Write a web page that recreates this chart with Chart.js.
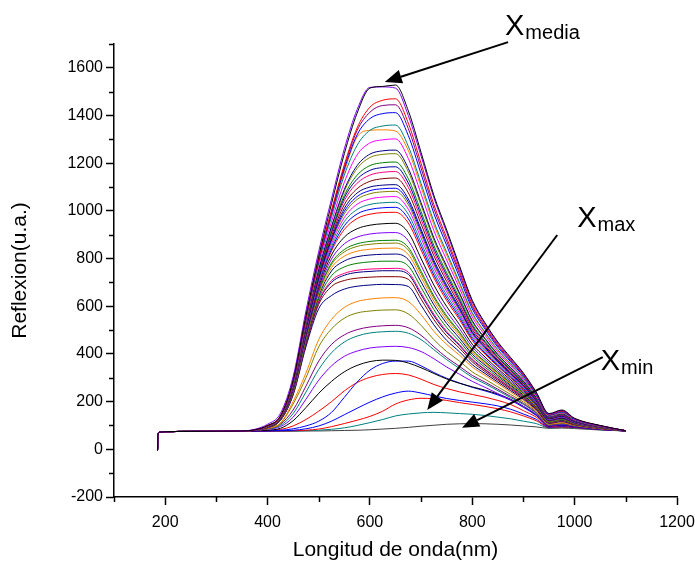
<!DOCTYPE html>
<html>
<head>
<meta charset="utf-8">
<script src="https://cdn.jsdelivr.net/npm/chart.js@4.4.1/dist/chart.umd.min.js"></script>
<style>
  html, body { margin: 0; padding: 0; background: #fff; }
  canvas { display: block; }
</style>
</head>
<body>
<canvas id="chart" width="695" height="567"></canvas>
<script>
// shared start of every spectrum (nm / counts)
const leadWavelengths = [185, 186, 190, 200, 250, 300, 350];
const leadValues = [-5, 65, 72, 74, 75, 76, 77];

// wavelengths for the rest of each spectrum
const wavelengths = [375, 400, 425, 450, 475, 500, 525, 550, 575, 600, 625, 650, 675, 700,
  725, 750, 775, 800, 825, 850, 875, 900, 925, 950, 975, 1000, 1050, 1100];

// spectra, top (X media) to bottom (X min)
const c01 = [82, 100, 140, 290, 560, 810, 1030, 1240, 1410, 1515, 1522, 1528, 1420, 1245, 1065, 920, 770, 625, 530, 450, 385, 320, 240, 150, 165, 130, 100, 78];
const c02 = [84, 105, 150, 305, 580, 830, 1050, 1260, 1425, 1518, 1520, 1515, 1400, 1230, 1055, 910, 760, 618, 525, 445, 380, 316, 236, 148, 163, 128, 99, 78];
const c03 = [81, 99, 138, 287, 553, 800, 1003, 1194, 1348, 1435, 1464, 1470, 1368, 1199, 1026, 887, 747, 607, 517, 439, 376, 313, 235, 147, 161, 128, 99, 78];
const c04 = [81, 98, 137, 285, 550, 796, 997, 1185, 1337, 1414, 1442, 1445, 1345, 1179, 1010, 873, 737, 599, 511, 434, 372, 310, 233, 146, 160, 127, 99, 78];
const c05 = [80, 98, 137, 283, 547, 791, 990, 1175, 1319, 1387, 1408, 1412, 1316, 1155, 989, 855, 722, 589, 504, 428, 367, 306, 230, 144, 158, 126, 98, 78];
const c06 = [80, 97, 135, 280, 542, 783, 975, 1150, 1275, 1338, 1356, 1360, 1271, 1115, 955, 826, 700, 573, 491, 418, 359, 299, 226, 142, 155, 125, 98, 78];
const c07 = [80, 97, 135, 279, 539, 780, 985, 1165, 1310, 1338, 1340, 1335, 1253, 1100, 942, 815, 692, 567, 487, 414, 356, 297, 224, 141, 154, 124, 97, 78];
const c08 = [80, 96, 134, 277, 535, 770, 955, 1120, 1235, 1285, 1298, 1302, 1220, 1071, 917, 794, 676, 555, 478, 407, 350, 292, 221, 139, 152, 123, 97, 78];
const c09 = [80, 96, 133, 274, 528, 755, 935, 1090, 1190, 1238, 1252, 1255, 1178, 1034, 887, 768, 656, 540, 465, 398, 342, 286, 217, 137, 149, 121, 96, 78];
const c10 = [80, 96, 133, 273, 526, 752, 930, 1082, 1178, 1224, 1237, 1240, 1164, 1023, 877, 759, 650, 535, 462, 395, 340, 284, 216, 136, 148, 121, 96, 78];
const c11 = [80, 95, 131, 271, 521, 745, 920, 1065, 1150, 1190, 1202, 1205, 1135, 997, 855, 741, 635, 524, 453, 389, 334, 280, 213, 134, 146, 120, 95, 78];
const c12 = [80, 95, 131, 270, 518, 740, 912, 1055, 1133, 1170, 1182, 1185, 1117, 982, 842, 730, 626, 518, 449, 385, 331, 277, 211, 133, 145, 119, 95, 78];
const c13 = [80, 95, 130, 268, 515, 735, 905, 1043, 1116, 1150, 1162, 1165, 1099, 965, 828, 718, 618, 511, 443, 381, 328, 275, 209, 132, 143, 119, 95, 78];
const c14 = [80, 95, 130, 267, 511, 728, 895, 1026, 1093, 1124, 1135, 1138, 1076, 945, 812, 704, 606, 503, 436, 375, 323, 271, 207, 131, 142, 118, 94, 78];
const c15 = [80, 94, 129, 265, 507, 720, 885, 1010, 1075, 1100, 1108, 1110, 1050, 923, 793, 688, 595, 494, 430, 370, 319, 268, 205, 129, 140, 117, 94, 78];
const c16 = [80, 94, 129, 264, 504, 716, 878, 998, 1060, 1085, 1093, 1095, 1038, 913, 784, 680, 588, 489, 426, 367, 316, 266, 203, 129, 139, 116, 94, 78];
const c17 = [80, 94, 128, 263, 502, 712, 872, 988, 1048, 1072, 1080, 1082, 1026, 902, 775, 672, 582, 485, 422, 364, 314, 264, 202, 128, 139, 116, 94, 78];
const c18 = [80, 94, 128, 262, 498, 706, 862, 972, 1028, 1050, 1058, 1060, 1007, 886, 761, 661, 572, 478, 417, 360, 311, 261, 200, 127, 137, 115, 93, 78];
const c19 = [80, 94, 127, 260, 494, 700, 850, 955, 1006, 1027, 1034, 1036, 986, 867, 745, 647, 562, 470, 410, 355, 306, 258, 198, 126, 136, 114, 93, 78];
const c20 = [80, 93, 127, 259, 490, 695, 840, 938, 987, 1006, 1013, 1015, 967, 851, 731, 635, 553, 463, 404, 351, 303, 255, 196, 125, 135, 114, 93, 78];
const c21 = [80, 93, 126, 257, 486, 690, 832, 922, 968, 986, 993, 994, 949, 836, 719, 624, 544, 456, 399, 347, 299, 252, 194, 124, 134, 113, 92, 78];
const c22 = [80, 93, 125, 253, 480, 680, 815, 890, 925, 940, 946, 948, 909, 800, 689, 599, 523, 441, 387, 337, 292, 246, 190, 122, 131, 112, 92, 78];
const c23 = [80, 93, 125, 250, 474, 670, 798, 862, 890, 903, 908, 909, 875, 771, 664, 578, 506, 429, 377, 329, 285, 241, 187, 120, 129, 110, 91, 78];
const c24 = [80, 92, 124, 247, 468, 662, 782, 838, 862, 872, 876, 877, 847, 747, 643, 560, 492, 418, 368, 322, 279, 236, 184, 118, 127, 109, 91, 78];
const c25 = [80, 92, 124, 246, 465, 658, 775, 828, 851, 860, 864, 865, 836, 737, 635, 553, 486, 414, 365, 320, 277, 235, 183, 117, 126, 109, 90, 78];
const c26 = [80, 92, 124, 244, 461, 650, 762, 810, 831, 839, 843, 844, 817, 721, 621, 541, 477, 407, 359, 315, 273, 232, 181, 116, 125, 108, 90, 78];
const c27 = [80, 92, 123, 242, 457, 642, 748, 790, 808, 815, 818, 819, 796, 702, 606, 528, 466, 399, 353, 310, 269, 228, 178, 115, 123, 107, 90, 78];
const c28 = [80, 92, 123, 239, 452, 632, 728, 765, 780, 786, 789, 789, 769, 679, 586, 511, 453, 389, 344, 303, 264, 224, 175, 114, 121, 106, 89, 78];
const c29 = [80, 91, 122, 236, 447, 622, 708, 738, 751, 756, 758, 759, 743, 656, 567, 495, 440, 379, 336, 297, 259, 220, 173, 112, 120, 105, 89, 78];
const c30 = [80, 91, 122, 235, 445, 618, 700, 730, 742, 746, 749, 749, 734, 648, 560, 489, 435, 375, 333, 295, 257, 219, 172, 112, 119, 105, 89, 78];
const c31 = [80, 91, 121, 232, 440, 608, 683, 708, 718, 722, 724, 724, 713, 630, 544, 476, 424, 367, 326, 289, 252, 215, 169, 111, 118, 104, 88, 78];
const c32 = [80, 91, 121, 228, 430, 590, 645, 672, 684, 689, 692, 691, 683, 604, 522, 457, 409, 355, 318, 282, 246, 210, 166, 109, 116, 103, 88, 78];
const c33 = [80, 88, 110, 200, 320, 460, 545, 595, 620, 630, 635, 636, 620, 565, 495, 440, 395, 345, 310, 275, 240, 205, 162, 106, 112, 101, 87, 78];
const c34 = [80, 87, 108, 190, 300, 430, 505, 550, 572, 580, 584, 585, 568, 520, 460, 410, 370, 325, 294, 262, 230, 198, 158, 104, 110, 100, 87, 78];
const c35 = [80, 86, 105, 165, 265, 370, 440, 480, 502, 513, 518, 520, 510, 478, 430, 385, 348, 310, 282, 252, 222, 192, 154, 102, 108, 99, 86, 78];
const c36 = [80, 85, 100, 150, 240, 335, 405, 450, 475, 488, 493, 495, 487, 460, 418, 376, 339, 302, 275, 246, 217, 188, 151, 101, 107, 98, 86, 78];
const c37 = [80, 84, 95, 135, 210, 290, 350, 390, 412, 425, 430, 432, 427, 410, 380, 345, 315, 285, 260, 234, 207, 180, 146, 99, 104, 97, 85, 78];
const c38 = [78, 80, 88, 120, 175, 235, 285, 325, 352, 368, 374, 373, 362, 342, 318, 295, 277, 262, 248, 232, 210, 180, 145, 98, 103, 96, 85, 77];
const c39 = [77, 78, 80, 86, 98, 118, 155, 218, 282, 332, 360, 370, 370, 350, 322, 298, 278, 260, 245, 228, 206, 176, 142, 97, 101, 95, 84, 77];
const c40 = [77, 79, 83, 98, 125, 160, 200, 245, 280, 302, 314, 318, 312, 294, 272, 255, 241, 230, 219, 205, 188, 162, 135, 95, 99, 94, 84, 77];
const c41 = [76, 77, 78, 80, 86, 98, 118, 145, 172, 198, 220, 236, 244, 236, 224, 213, 205, 198, 191, 182, 168, 148, 126, 93, 96, 92, 83, 77];
const c42 = [76, 76, 77, 78, 80, 85, 95, 108, 122, 138, 160, 190, 207, 214, 212, 205, 196, 188, 180, 170, 157, 140, 120, 92, 94, 91, 83, 77];
const c43 = [76, 76, 76, 77, 78, 80, 84, 90, 100, 112, 125, 140, 148, 153, 155, 153, 150, 147, 142, 135, 128, 118, 108, 90, 92, 90, 82, 77];
const c44 = [76, 76, 76, 76, 77, 77, 78, 79, 80, 82, 85, 88, 92, 97, 101, 105, 107, 108, 107, 105, 102, 98, 94, 88, 89, 87, 81, 77];

const curves = [c01, c02, c03, c04, c05, c06, c07, c08, c09, c10, c11, c12, c13, c14, c15,
  c16, c17, c18, c19, c20, c21, c22, c23, c24, c25, c26, c27, c28, c29, c30, c31, c32,
  c33, c34, c35, c36, c37, c38, c39, c40, c41, c42, c43, c44];

const lineColors = ['#000000', '#8000ff', '#ff0000', '#800080', '#0000ff', '#008080', '#ff8000',
  '#ff00ff', '#000080', '#808000', '#008000', '#0000a0', '#ff0080', '#800000', '#000080',
  '#0000ff', '#808000', '#ff00ff', '#008080', '#0000ff', '#ff0000', '#000000', '#8000ff',
  '#008000', '#808000', '#ff8000', '#000080', '#008000', '#ff0080', '#000080', '#800000',
  '#000080', '#ff8000', '#808000', '#800080', '#008080', '#8000ff', '#000000', '#0000ff',
  '#ff0000', '#0000ff', '#ff0000', '#008080', '#404040'];

// arrows and labels, in data units
const arrows = [
  { from: [870, 1708], to: [629, 1541] },
  { from: [966, 899], to: [712, 165] },
  { from: [1055, 387], to: [780, 90] }
];
const notes = [
  { at: [864, 1738], sub: 'media' },
  { at: [1005, 932], sub: 'max' },
  { at: [1051, 332], sub: 'min' }
];

const FONT = '"Liberation Sans", Arial, sans-serif';

function buildDatasets(){
  return curves.map((vals, i) => {
    const lead = leadWavelengths.map((w, j) => ({ x: w, y: leadValues[j] }));
    const rest = wavelengths.map((w, j) => ({ x: w, y: vals[j] }));
    return {
      data: lead.concat(rest),
      borderColor: lineColors[i],
      borderWidth: 1,
      pointRadius: 0,
      fill: false,
      tension: 0.4,
      cubicInterpolationMode: 'monotone'
    };
  });
}

const whiteBg = {
  id: 'whiteBg',
  beforeDraw(chart){
    const ctx = chart.ctx;
    ctx.save();
    ctx.fillStyle = '#fff';
    ctx.fillRect(0, 0, chart.width, chart.height);
    ctx.restore();
  }
};

// short ticks at the odd hundreds
const minorTicks = {
  id: 'minorTicks',
  afterDraw(chart){
    const ctx = chart.ctx;
    const xs = chart.scales.x;
    const ys = chart.scales.y;
    ctx.save();
    ctx.strokeStyle = '#000';
    ctx.lineWidth = 1.5;
    ctx.beginPath();
    xs.ticks.forEach(t => {
      if(t.value % 200 === 0) return;
      const px = Math.round(xs.getPixelForValue(t.value)) + 0.5;
      ctx.moveTo(px, xs.top);
      ctx.lineTo(px, xs.top + 5);
    });
    ys.ticks.forEach(t => {
      if(t.value % 200 === 0) return;
      const py = Math.round(ys.getPixelForValue(t.value)) + 0.5;
      ctx.moveTo(ys.right, py);
      ctx.lineTo(ys.right - 5, py);
    });
    ctx.stroke();
    ctx.restore();
  }
};

const annotations = {
  id: 'annotations',
  afterDraw(chart){
    const ctx = chart.ctx;
    const xs = chart.scales.x;
    const ys = chart.scales.y;
    ctx.save();
    ctx.strokeStyle = '#000';
    ctx.fillStyle = '#000';
    ctx.lineWidth = 2;
    arrows.forEach(a => {
      const x0 = xs.getPixelForValue(a.from[0]);
      const y0 = ys.getPixelForValue(a.from[1]);
      const x1 = xs.getPixelForValue(a.to[0]);
      const y1 = ys.getPixelForValue(a.to[1]);
      const ang = Math.atan2(y1 - y0, x1 - x0);
      const len = 17, half = 7;
      const bx = x1 - len * Math.cos(ang);
      const by = y1 - len * Math.sin(ang);
      ctx.beginPath();
      ctx.moveTo(x0, y0);
      ctx.lineTo(bx, by);
      ctx.stroke();
      ctx.beginPath();
      ctx.moveTo(x1, y1);
      ctx.lineTo(bx + half * Math.sin(ang), by - half * Math.cos(ang));
      ctx.lineTo(bx - half * Math.sin(ang), by + half * Math.cos(ang));
      ctx.closePath();
      ctx.fill();
    });
    ctx.textBaseline = 'alphabetic';
    ctx.textAlign = 'left';
    notes.forEach(n => {
      const px = xs.getPixelForValue(n.at[0]);
      const py = ys.getPixelForValue(n.at[1]);
      ctx.font = '29px ' + FONT;
      ctx.fillText('X', px, py);
      const w = ctx.measureText('X').width;
      ctx.font = '20px ' + FONT;
      ctx.fillText(n.sub, px + w + 1, py + 4);
    });
    ctx.restore();
  }
};

const tickFont = { family: FONT, size: 16 };
const titleFont = { family: FONT, size: 21 };

new Chart(document.getElementById('chart').getContext('2d'), {
  type: 'line',
  data: { datasets: buildDatasets() },
  options: {
    responsive: false,
    animation: false,
    devicePixelRatio: 1,
    events: [],
    layout: { padding: { left: 0, top: 44, right: 18, bottom: 0 } },
    plugins: {
      legend: { display: false },
      tooltip: { enabled: false }
    },
    scales: {
      x: {
        type: 'linear',
        min: 100,
        max: 1200,
        afterFit(scale){
          scale.height = 70;
          scale.paddingLeft = 0;
          scale.paddingRight = 0;
        },
        border: { display: true, color: '#000', width: 1.5 },
        grid: {
          drawOnChartArea: false,
          drawTicks: true,
          tickLength: 8,
          tickWidth: 1.5,
          tickColor: c => (c.tick && c.tick.value % 200 === 0) ? '#000' : 'rgba(0,0,0,0)'
        },
        ticks: {
          stepSize: 100,
          autoSkip: false,
          maxRotation: 0,
          padding: 8,
          color: '#000',
          font: tickFont,
          callback: v => v % 200 === 0 ? v : ''
        },
        title: {
          display: true,
          text: 'Longitud de onda(nm)',
          color: '#000',
          font: titleFont,
          padding: { top: 4, bottom: 4 }
        }
      },
      y: {
        type: 'linear',
        min: -200,
        max: 1700,
        afterFit(scale){
          scale.width = 114;
          scale.paddingTop = 0;
          scale.paddingBottom = 0;
        },
        border: { display: true, color: '#000', width: 1.5 },
        grid: {
          drawOnChartArea: false,
          drawTicks: true,
          tickLength: 8,
          tickWidth: 1.5,
          tickColor: c => (c.tick && c.tick.value % 200 === 0) ? '#000' : 'rgba(0,0,0,0)'
        },
        ticks: {
          stepSize: 100,
          autoSkip: false,
          padding: 3,
          color: '#000',
          font: tickFont,
          callback: v => v % 200 === 0 ? v : ''
        },
        title: {
          display: true,
          text: 'Reflexion(u.a.)',
          color: '#000',
          font: titleFont,
          padding: { top: 8, bottom: 0 }
        }
      }
    }
  },
  plugins: [whiteBg, minorTicks, annotations]
});
</script>
</body>
</html>
